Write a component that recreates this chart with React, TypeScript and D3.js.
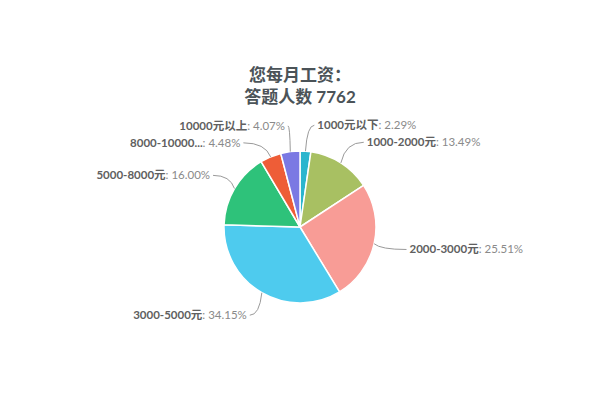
import React from 'react';
import * as d3 from 'd3';

const categories = ['1000元以下', '1000-2000元', '2000-3000元', '3000-5000元', '5000-8000元', '8000-10000...', '10000元以上'];
const shares = [2.29, 13.49, 25.51, 34.15, 16.0, 4.48, 4.07];
const colors = ['#2ab5ce', '#a8c062', '#f89c96', '#4ecbee', '#2ec27a', '#ee5d37', '#7b79e3'];
const titleLines = ['您每月工资：', '答题人数 7762'];

const width = 600;
const height = 400;
const cx = 300;
const cy = 227;
const radius = 76;
const labelRadius = 102;

type Item = { name: string; value: number; color: string };

function App() {
  const items: Item[] = categories.map((name, i) => ({ name, value: shares[i], color: colors[i] }));

  const pie = d3
    .pie<Item>()
    .sort(null)
    .value((d) => d.value)
    .startAngle(0)
    .endAngle(Math.PI * 2);
  const arcs = pie(items);

  const arc = d3.arc<d3.PieArcDatum<Item>>().innerRadius(0).outerRadius(radius);

  // label placement, roughly the way highcharts does it
  const labels = arcs.map((a) => {
    const mid = (a.startAngle + a.endAngle) / 2;
    const side = Math.sin(mid) >= 0 ? 1 : -1;
    return {
      a,
      mid,
      side,
      y: cy - labelRadius * Math.cos(mid),
      y0: cy - labelRadius * Math.cos(mid),
    };
  });

  // push overlapping labels apart on each side
  [1, -1].forEach((s) => {
    const group = labels.filter((l) => l.side === s).sort((p, q) => p.y - q.y);
    for (let i = 1; i < group.length; i++) {
      if (group[i].y - group[i - 1].y < 17) group[i].y = group[i - 1].y + 17;
    }
  });

  const placed = labels.map((l) => {
    const dy = l.y - cy;
    const base = Math.abs(labelRadius * Math.sin(l.mid));
    const circ = Math.sqrt(Math.max(labelRadius * labelRadius - dy * dy, 0));
    const off = l.y !== l.y0 ? Math.max(base, circ) : base;
    const pad = l.side > 0 ? 10 : -2;
    const x = cx + l.side * off + pad;
    const ex = cx + radius * Math.sin(l.mid);
    const ey = cy - radius * Math.cos(l.mid);
    const lx = x - l.side * 3;
    const ctrlX = ex + (lx - ex) * 0.2;
    const path = `M${lx},${l.y}Q${ctrlX},${l.y} ${ex},${ey}`;
    return { ...l, x, path };
  });

  const font = 'Lato, "Noto Sans CJK SC", sans-serif';

  return (
    <svg
      width={width}
      height={height}
      style={{ position: 'absolute', left: 0, top: 0, background: '#fff' }}
      fontFamily={font}
    >
      <g textAnchor='middle' fill='#4b5358' fontSize={17} fontWeight='bold'>
        {titleLines.map((t, i) => (
          <text key={t} x={cx} y={81 + i * 22}>
            {t}
          </text>
        ))}
      </g>

      <g>
        {arcs.map((a) => (
          <path
            key={a.data.name}
            d={arc(a) || ''}
            transform={`translate(${cx},${cy})`}
            fill={a.data.color}
            stroke='#fff'
            strokeWidth={1.5}
            strokeLinejoin='round'
          />
        ))}
      </g>

      <g fill='none' stroke='#9a9a9a' strokeWidth={1}>
        {placed.map((l) => (
          <path key={l.a.data.name} d={l.path} />
        ))}
      </g>

      <g fontSize={11.5}>
        {placed.map((l) => (
          <text
            key={l.a.data.name}
            x={l.x}
            y={l.y + 4}
            textAnchor={l.side > 0 ? 'start' : 'end'}
          >
            <tspan fontWeight='bold' fill='#606060'>
              {l.a.data.name}
            </tspan>
            <tspan fill='#8a8a8a'>{`: ${l.a.data.value.toFixed(2)}%`}</tspan>
          </text>
        ))}
      </g>
    </svg>
  );
}

export default App;
